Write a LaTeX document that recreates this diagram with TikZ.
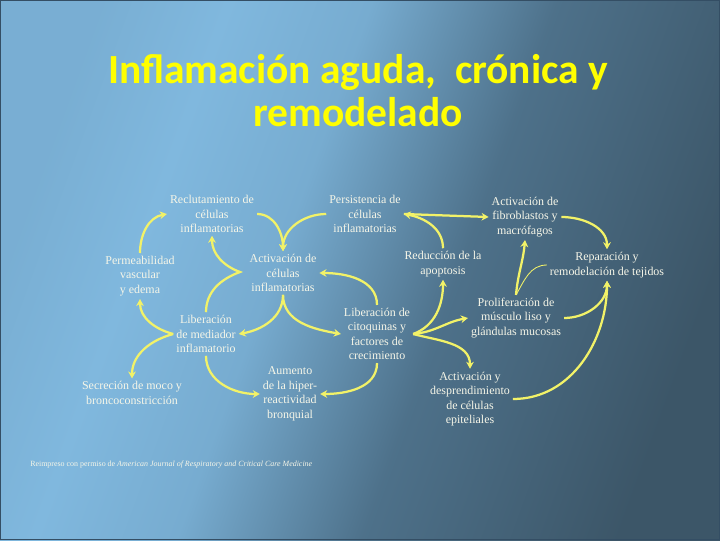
\documentclass[tikz,border=0pt]{standalone}
\usepackage{fontspec}
\setmainfont{Liberation Serif}
\newfontfamily\titlefont{Carlito}
\usepackage{tikz}
\usetikzlibrary{arrows.meta, positioning}

\definecolor{bgclaro}{RGB}{128,184,222}
\definecolor{bgmedio}{RGB}{92,135,166}
\definecolor{bgoscuro}{RGB}{60,86,104}
\definecolor{borde}{RGB}{52,78,100}
\definecolor{txtcol}{RGB}{246,246,232}
\definecolor{flechacol}{RGB}{242,242,104}
\definecolor{titcol}{RGB}{255,255,0}

\pgfdeclarehorizontalshading{fondo}{100bp}{
  color(0bp)=(bgclaro!80!bgmedio); color(25bp)=(bgclaro!80!bgmedio); color(34bp)=(bgclaro);
  color(44bp)=(bgclaro!75!bgmedio); color(57bp)=(bgmedio!55!bgoscuro);
  color(75bp)=(bgoscuro); color(100bp)=(bgoscuro)}

\begin{document}
\begin{tikzpicture}[
            x=0.025cm, y=-0.025cm,
            txt/.style={text=txtcol, align=center, inner sep=2pt,
                font=\fontsize{8.5}{10.3}\selectfont},
            flecha/.style={draw=flechacol, line width=1.6pt,
                -{Stealth[length=5pt, width=5.5pt]}},
            linea/.style={draw=flechacol, line width=1.6pt},
        ]
            \useasboundingbox (0,0) rectangle (720,540);
            \shade[shading=fondo, shading angle=-20] (0,0) rectangle (720,540);
            \draw[borde, line width=1pt] (0.5,0.5) rectangle (719.5,539.5);

            % titulo
            \node[text=titcol, align=center, font=\titlefont\bfseries\fontsize{29.5}{30.5}\selectfont]
                (titulo) at (358,91) {Inflamación aguda,\ \ crónica y\\remodelado};

            % nodos
            \node[txt] (reclut) at (212,214) {Reclutamiento de\\células\\inflamatorias};
            \node[txt] (persist) at (365,214) {Persistencia de\\células\\inflamatorias};
            \node[txt] (fibro) at (525,217) {Activación de\\fibroblastos y\\macrófagos};
            \node[txt] (perme) at (140,276) {Permeabilidad\\vascular\\y edema};
            \node[txt] (activ) at (283,273) {Activación de\\células\\inflamatorias};
            \node[txt] (apopt) at (443,264) {Reducción de la\\apoptosis};
            \node[txt] (repar) at (607,265) {Reparación y\\remodelación de tejidos};
            \node[txt] (libmed) at (206,334) {Liberación\\de mediador\\inflamatorio};
            \node[txt] (citoq) at (377,334) {Liberación de\\citoquinas y\\factores de\\crecimiento};
            \node[txt] (prolif) at (516,318) {Proliferación de\\músculo liso y\\glándulas mucosas};
            \node[txt] (secre) at (132,393) {Secreción de moco y\\broncoconstricción};
            \node[txt] (aument) at (290,394) {Aumento\\de la hiper-\\reactividad\\bronquial};
            \node[txt] (epit) at (470,399) {Activación y\\desprendimiento\\de células\\epiteliales};

            \node[text=txtcol, anchor=west, inner sep=0pt, font=\fontsize{5.65}{6}\selectfont]
                (nota) at (30,465) {Reimpreso con permiso de \textit{American Journal of Respiratory and Critical Care Medicine}};

            \coordinate (cruce) at (240,272);

            % flechas
            \draw[flecha] (perme.north) to[out=90, in=190] (reclut.west);
            \draw[flecha] (reclut.east) to[out=0, in=90] (activ.north);
            \draw[flecha] (persist.west) to[out=180, in=90] (activ.north);
            \draw[flecha] (libmed.north) to[out=90, in=200] (cruce)
                to[out=160, in=-90] (reclut.south);
            \draw[flecha] (activ.south) to[out=-90, in=10] (libmed.east);
            \draw[flecha] (activ.south) to[out=-90, in=170] (citoq.west);
            \draw[flecha] (citoq.north) to[out=90, in=0] (activ.east);
            \draw[flecha] (libmed.west) to[out=165, in=-90] (perme.south);
            \draw[flecha] (libmed.west) to[out=195, in=90] (secre.north);
            \draw[flecha] (libmed.south) to[out=-90, in=180] (aument.west);
            \draw[flecha] (citoq.south) to[out=-90, in=0] (aument.east);
            \draw[flecha] (citoq.east) to[out=20, in=-90] (apopt.south);
            \draw[flecha] (citoq.east) to[out=5, in=190] (prolif.west);
            \draw[flecha] (citoq.east) to[out=-15, in=90] (epit.north);
            \draw[flecha] (apopt.north) to[out=90, in=-10] (persist.east);
            \draw[flecha] (persist.east) -- (fibro.west);
            \draw[flecha] (fibro.east) to[out=0, in=90] (repar.north);
            \draw[flecha] (prolif.north) to[out=85, in=-95] (fibro.south);
            \draw[flechacol, line width=0.6pt] (prolif.north) to[out=60, in=180] (repar.west);
            \draw[flecha] (prolif.east) to[out=0, in=-90] (repar.south);
            \draw[flecha] (epit.east) to[out=0, in=-90] (repar.south);
        \end{tikzpicture}
\end{document}
